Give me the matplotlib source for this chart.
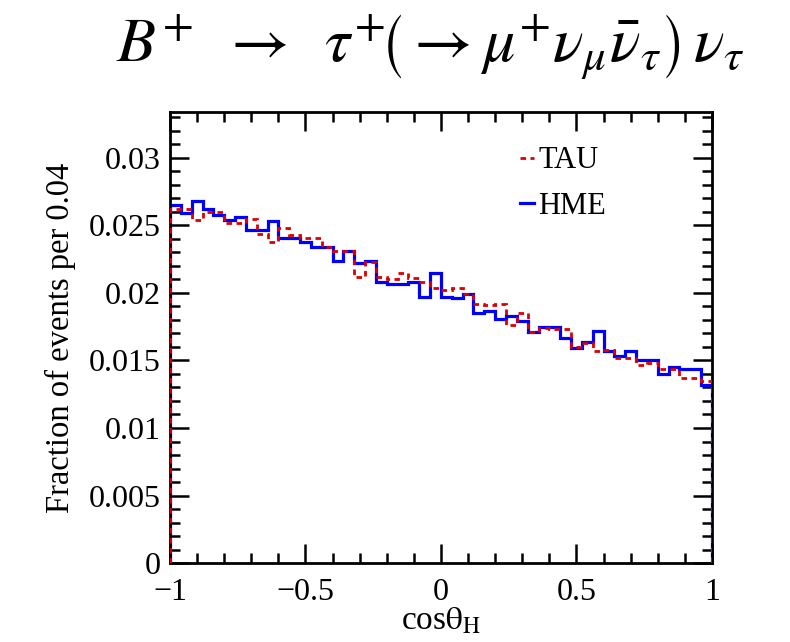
import numpy as np
import matplotlib
matplotlib.use("Agg")
import matplotlib.pyplot as plt
from matplotlib.ticker import MultipleLocator

bin_edges_range = (-1.0, 1.0)
n_bins = 50

hme = [0.0265, 0.0259, 0.0268, 0.0262, 0.0258, 0.0254, 0.0256, 0.0247, 0.0247, 0.0253,
       0.0241, 0.0241, 0.0238, 0.0234, 0.0234, 0.0224, 0.0231, 0.0222, 0.0224, 0.0208,
       0.0207, 0.0207, 0.0208, 0.0197, 0.0215, 0.0197, 0.0196, 0.0199, 0.0185, 0.0187,
       0.0181, 0.0183, 0.0179, 0.0171, 0.0175, 0.0175, 0.0167, 0.0159, 0.0164, 0.0172,
       0.0157, 0.0153, 0.0157, 0.0150, 0.0150, 0.0140, 0.0145, 0.0144, 0.0144, 0.0132]

tau = [0.0262, 0.0262, 0.0254, 0.0260, 0.0260, 0.0252, 0.0252, 0.0255, 0.0244, 0.0238,
       0.0248, 0.0243, 0.0241, 0.0241, 0.0234, 0.0231, 0.0231, 0.0212, 0.0223, 0.0212,
       0.0210, 0.0215, 0.0211, 0.0208, 0.0204, 0.0202, 0.0204, 0.0199, 0.0192, 0.0191,
       0.0192, 0.0176, 0.0185, 0.0171, 0.0174, 0.0173, 0.0173, 0.0160, 0.0163, 0.0157,
       0.0158, 0.0152, 0.0152, 0.0147, 0.0148, 0.0144, 0.0144, 0.0137, 0.0137, 0.0135]

xticks = [-1, -0.5, 0, 0.5, 1]
xticklabels = ["\u22121", "\u22120.5", "0", "0.5", "1"]
yticks = [0, 0.005, 0.01, 0.015, 0.02, 0.025, 0.03]
yticklabels = ["0", "0.005", "0.01", "0.015", "0.02", "0.025", "0.03"]

plt.rcParams['mathtext.fontset'] = 'stix'
serif = 'Liberation Serif'

edges = np.linspace(bin_edges_range[0], bin_edges_range[1], n_bins + 1)

fig = plt.figure(figsize=(7.9, 6.42), dpi=100)
ax = fig.add_axes([0.2152, 0.123, 0.686, 0.7025])

ax.stairs(tau, edges, baseline=0, color='#dd0000', lw=2.0, linestyle=(0, (2.0, 1.6)), label='TAU', zorder=3)
ax.stairs(hme, edges, baseline=0, color='#0000ff', lw=2.3, label='HME', zorder=2)

ax.set_xlim(-1, 1)
ax.set_ylim(0, 0.0334)
ax.set_xticks(xticks)
ax.set_xticklabels(xticklabels, fontfamily=serif, fontsize=23)
ax.set_yticks(yticks)
ax.set_yticklabels(yticklabels, fontfamily=serif, fontsize=23)
ax.xaxis.set_minor_locator(MultipleLocator(0.1))
ax.yaxis.set_minor_locator(MultipleLocator(0.001))
ax.tick_params(which='both', direction='in', top=True, right=True, width=1.8)
ax.tick_params(which='major', length=14)
ax.tick_params(which='minor', length=7)
ax.tick_params(axis='x', which='major', pad=11)
ax.tick_params(axis='y', which='major', pad=7)
for s in ax.spines.values():
    s.set_linewidth(2.0)

ax.set_xlabel(r'cos$\mathrm{\theta}_{\mathrm{H}}$', fontfamily=serif, fontsize=24, labelpad=-1)
ax.set_ylabel('Fraction of events per 0.04', fontfamily=serif, fontsize=23.5, labelpad=9)

leg = ax.legend(loc='upper left', bbox_to_anchor=(0.595, 0.985), frameon=False,
                prop={'family': serif, 'size': 22}, handlelength=0.45, handletextpad=0.15,
                labelspacing=0.55)

fig.text(0.545, 0.928,
         r'$B^{+}\;\;\rightarrow\;\;\tau^{+}\!\left(\rightarrow \mu^{+}\nu_{\mu}\bar{\nu}_{\tau}\right)\,\nu_{\tau}$',
         ha='center', va='center', fontsize=46)

fig.savefig('out.png', dpi=100)
